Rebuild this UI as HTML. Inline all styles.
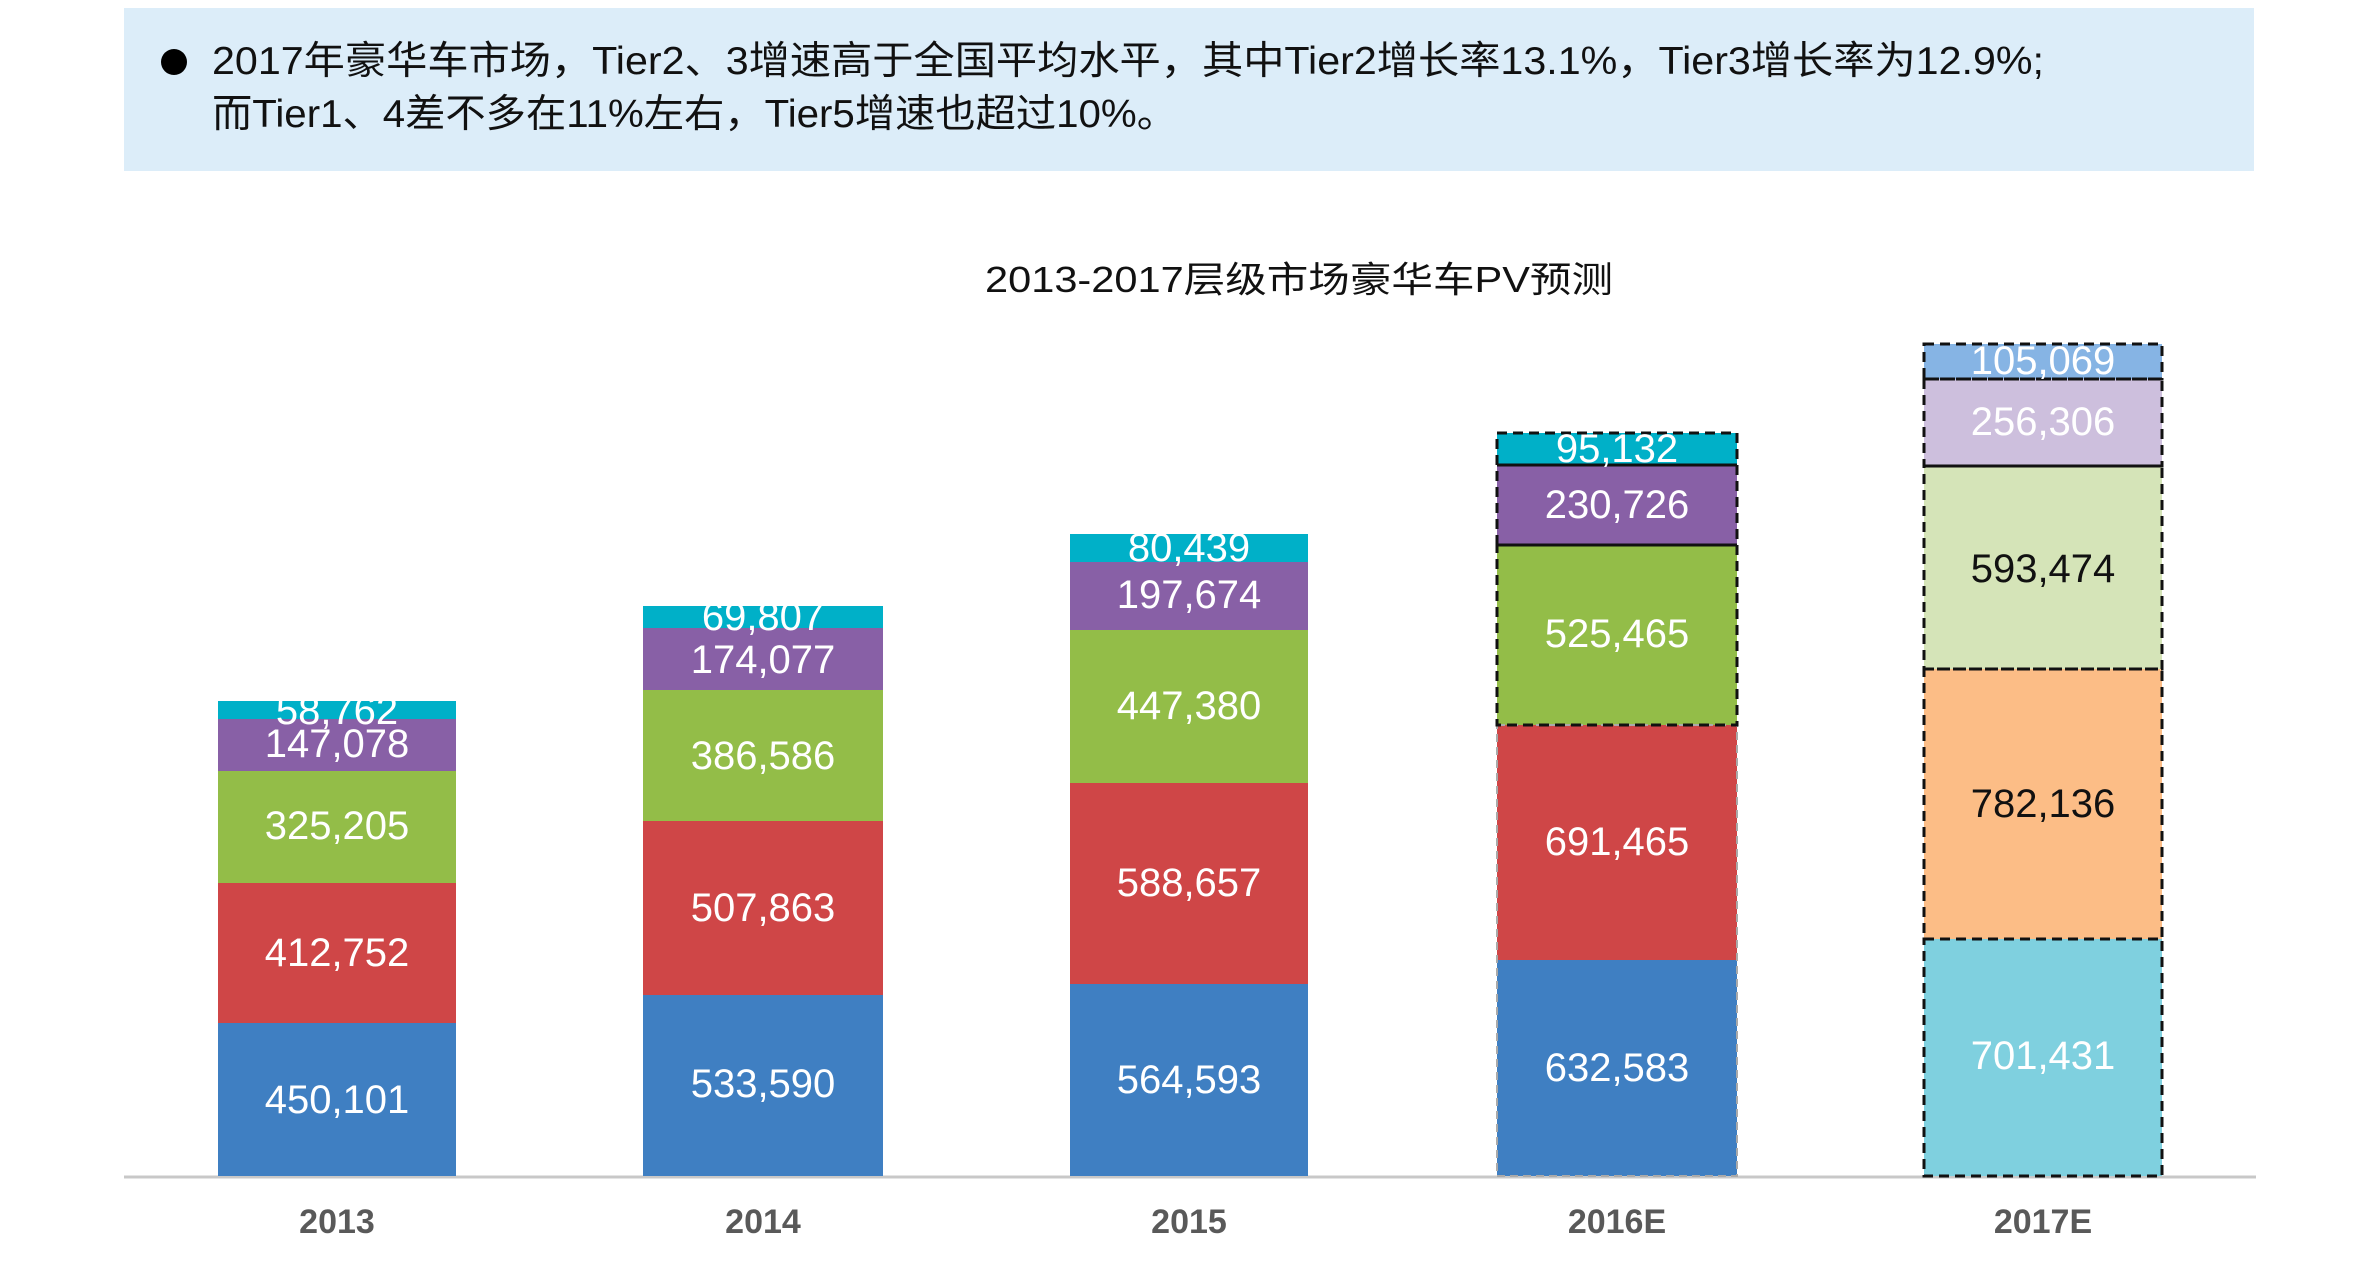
<!DOCTYPE html>
<html><head><meta charset="utf-8"><style>
html,body{margin:0;padding:0;background:#fff;}
svg{display:block;}
text{font-family:"Liberation Sans","Noto Sans CJK SC",sans-serif;}
</style></head><body>
<svg width="2372" height="1272" viewBox="0 0 2372 1272" xmlns="http://www.w3.org/2000/svg">
<rect x="124" y="8" width="2130" height="163" fill="#dcedf9"/>
<circle cx="174" cy="62" r="13" fill="#000"/>
<text x="212" y="74" font-size="39" fill="#111" textLength="1832" lengthAdjust="spacingAndGlyphs">2017年豪华车市场，Tier2、3增速高于全国平均水平，其中Tier2增长率13.1%，Tier3增长率为12.9%;</text>
<text x="212" y="127" font-size="39" fill="#111" textLength="965" lengthAdjust="spacingAndGlyphs">而Tier1、4差不多在11%左右，Tier5增速也超过10%。</text>
<text x="1299" y="292" font-size="36" fill="#111" text-anchor="middle" textLength="628" lengthAdjust="spacingAndGlyphs">2013-2017层级市场豪华车PV预测</text>

<line x1="124" y1="1177" x2="2256" y2="1177" stroke="#c8c8c8" stroke-width="3"/>

<!-- 2013 -->
<rect x="218" y="701" width="238" height="18" fill="#00b0c8"/>
<rect x="218" y="719" width="238" height="52" fill="#8860a6"/>
<rect x="218" y="771" width="238" height="112" fill="#93bd48"/>
<rect x="218" y="883" width="238" height="140" fill="#cf4647"/>
<rect x="218" y="1023" width="238" height="153" fill="#3f7fc2"/>
<!-- 2014 -->
<rect x="643" y="606" width="240" height="22" fill="#00b0c8"/>
<rect x="643" y="628" width="240" height="62" fill="#8860a6"/>
<rect x="643" y="690" width="240" height="131" fill="#93bd48"/>
<rect x="643" y="821" width="240" height="174" fill="#cf4647"/>
<rect x="643" y="995" width="240" height="181" fill="#3f7fc2"/>
<!-- 2015 -->
<rect x="1070" y="534" width="238" height="28" fill="#00b0c8"/>
<rect x="1070" y="562" width="238" height="68" fill="#8860a6"/>
<rect x="1070" y="630" width="238" height="153" fill="#93bd48"/>
<rect x="1070" y="783" width="238" height="201" fill="#cf4647"/>
<rect x="1070" y="984" width="238" height="192" fill="#3f7fc2"/>
<!-- 2016E -->
<rect x="1497" y="433" width="240" height="32" fill="#00b0c8"/>
<rect x="1497" y="465" width="240" height="80" fill="#8860a6"/>
<rect x="1497" y="545" width="240" height="180" fill="#93bd48"/>
<rect x="1497" y="725" width="240" height="235" fill="#cf4647"/>
<rect x="1497" y="960" width="240" height="216" fill="#3f7fc2"/>
<g fill="none" stroke="#aaa" stroke-width="2" stroke-dasharray="8,5">
<rect x="1497" y="725" width="240" height="451"/>
</g>
<g fill="none" stroke="#111" stroke-width="3" stroke-dasharray="10,6">
<rect x="1497" y="433" width="240" height="32"/>
<rect x="1497" y="465" width="240" height="80"/>
<rect x="1497" y="545" width="240" height="180"/>
</g>
<!-- 2017E -->
<rect x="1924" y="344" width="238" height="35" fill="#86b4e4"/>
<rect x="1924" y="379" width="238" height="87" fill="#cdbfdd"/>
<rect x="1924" y="466" width="238" height="203" fill="#d5e4b8"/>
<rect x="1924" y="669" width="238" height="270" fill="#fcbd86"/>
<rect x="1924" y="939" width="238" height="237" fill="#7fd0df"/>
<g fill="none" stroke="#111" stroke-width="3" stroke-dasharray="10,6">
<rect x="1924" y="344" width="238" height="35"/>
<rect x="1924" y="379" width="238" height="87"/>
<rect x="1924" y="466" width="238" height="203"/>
<rect x="1924" y="669" width="238" height="270"/>
<rect x="1924" y="939" width="238" height="237"/>
</g>

<g font-size="40" fill="#fff" text-anchor="middle">
<text x="337" y="724">58,762</text>
<text x="337" y="757">147,078</text>
<text x="337" y="839">325,205</text>
<text x="337" y="966">412,752</text>
<text x="337" y="1113">450,101</text>
<text x="763" y="630">69,807</text>
<text x="763" y="673">174,077</text>
<text x="763" y="769">386,586</text>
<text x="763" y="921">507,863</text>
<text x="763" y="1097">533,590</text>
<text x="1189" y="561">80,439</text>
<text x="1189" y="608">197,674</text>
<text x="1189" y="719">447,380</text>
<text x="1189" y="896">588,657</text>
<text x="1189" y="1093">564,593</text>
<text x="1617" y="462">95,132</text>
<text x="1617" y="518">230,726</text>
<text x="1617" y="647">525,465</text>
<text x="1617" y="855">691,465</text>
<text x="1617" y="1081">632,583</text>
<text x="2043" y="374">105,069</text>
<text x="2043" y="435">256,306</text>
<text x="2043" y="582" fill="#111">593,474</text>
<text x="2043" y="817" fill="#111">782,136</text>
<text x="2043" y="1069">701,431</text>
</g>
<g font-size="34" font-weight="bold" fill="#595959" text-anchor="middle">
<text x="337" y="1233">2013</text>
<text x="763" y="1233">2014</text>
<text x="1189" y="1233">2015</text>
<text x="1617" y="1233">2016E</text>
<text x="2043" y="1233">2017E</text>
</g>
</svg>
</body></html>
